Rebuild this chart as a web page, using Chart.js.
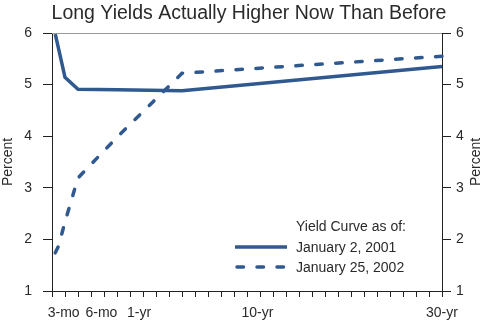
<!DOCTYPE html>
<html>
<head>
  <title>Long Yields</title>
  <meta charset="utf-8">
  <script src="https://cdn.jsdelivr.net/npm/chart.js"></script>
  <style>
    html, body { margin: 0; padding: 0; background: #fff; }
    #wrap { width: 485px; height: 323px; }
  </style>
</head>
<body>
  <div id="wrap"><canvas id="yieldCurveChart"></canvas></div>

  <script>
    // maturities in years
    const maturities = [0.25, 0.5, 1, 2, 5, 10, 30];
    const yields2001 = [5.98, 5.7, 5.14, 4.91, 4.9, 4.88, 5.35];
    const yields2002 = [1.74, 1.87, 2.34, 3.19, 3.98, 5.22, 5.55];
    const seriesLabels = ['January 2, 2001', 'January 25, 2002'];
    const legendTitle = 'Yield Curve as of:';
    const chartTitle = 'Long Yields Actually Higher Now Than Before';
    const axisTitle = 'Percent';

    // bottom axis labels and the axis value each one sits under
    const xTickLabels = ['3-mo', '6-mo', '1-yr', '10-yr', '30-yr'];
    const xTickAt = [0.9, 3.8, 6.7, 15.8, 30];
    const yTicks = [1, 2, 3, 4, 5, 6];

    const lineColor = '#30598f';
    const textColor = '#2a2a2a';
    const font = 'Arial, "Liberation Sans", Helvetica, sans-serif';

    const toPoints = ys => maturities.map((m, i) => ({ x: m, y: ys[i] }));

    // title, top rule and the right-hand axis title (reads upward like the left one)
    const frame = {
      id: 'frame',
      beforeDatasetsDraw(chart) {
        const { ctx, chartArea } = chart;
        ctx.save();
        ctx.strokeStyle = '#9a9a9a';
        ctx.lineWidth = 1;
        ctx.beginPath();
        ctx.moveTo(chartArea.left, chartArea.top + 0.5);
        ctx.lineTo(chartArea.right, chartArea.top + 0.5);
        ctx.stroke();

        ctx.fillStyle = textColor;
        ctx.font = '19.5px ' + font;
        ctx.textAlign = 'center';
        ctx.textBaseline = 'alphabetic';
        ctx.fillText(chartTitle, (chartArea.left + chartArea.right) / 2 + 2, 19);

        ctx.font = '14px ' + font;
        ctx.textBaseline = 'middle';
        ctx.translate(chart.width - 9, (chartArea.top + chartArea.bottom) / 2);
        ctx.rotate(-Math.PI / 2);
        ctx.fillText(axisTitle, 0, 0);
        ctx.restore();
      }
    };

    // legend inside the plot, lower right
    const insideLegend = {
      id: 'insideLegend',
      afterDraw(chart) {
        const { ctx, chartArea } = chart;
        const x0 = chartArea.left + 183;
        const tx = x0 + 61;
        const y0 = chartArea.bottom - 64;
        ctx.save();
        ctx.font = '14px ' + font;
        ctx.fillStyle = textColor;
        ctx.textBaseline = 'middle';
        ctx.fillText(legendTitle, tx, y0);
        chart.data.datasets.forEach((ds, i) => {
          const y = y0 + 20 * (i + 1);
          ctx.strokeStyle = ds.borderColor;
          ctx.lineWidth = ds.borderWidth;
          ctx.lineCap = ds.borderDash ? 'round' : 'butt';
          ctx.setLineDash(ds.borderDash || []);
          ctx.beginPath();
          ctx.moveTo(x0 + (ds.borderDash ? 2 : 0), y);
          ctx.lineTo(x0 + 52, y);
          ctx.stroke();
          ctx.setLineDash([]);
          ctx.fillText(ds.label, tx, y + 1);
        });
        ctx.restore();
      }
    };

    const yAxis = (position, pad) => ({
      type: 'linear',
      position: position,
      min: 1,
      max: 6,
      afterBuildTicks: axis => { axis.ticks = yTicks.map(v => ({ value: v })); },
      afterFit: axis => { axis.width = position === 'left' ? 52 : 43; },
      grid: { drawOnChartArea: false, tickLength: 9, color: '#222', tickWidth: 1 },
      border: { display: true, color: '#222', width: 1 },
      ticks: { padding: pad, color: textColor, font: { family: font, size: 14 } },
      title: {
        display: position === 'left',
        text: axisTitle,
        color: textColor,
        padding: { top: 0, bottom: 2 },
        font: { family: font, size: 14 }
      }
    });

    new Chart(document.getElementById('yieldCurveChart'), {
      type: 'line',
      data: {
        datasets: [{
          label: seriesLabels[0],
          data: toPoints(yields2001),
          borderColor: lineColor,
          borderWidth: 3.5,
          pointRadius: 0,
          tension: 0,
          clip: false
        }, {
          label: seriesLabels[1],
          data: toPoints(yields2002),
          borderColor: lineColor,
          borderWidth: 3.5,
          borderDash: [6.5, 13.5],
          borderCapStyle: 'round',
          pointRadius: 0,
          tension: 0,
          clip: false
        }]
      },
      plugins: [frame, insideLegend],
      options: {
        responsive: true,
        maintainAspectRatio: false,
        animation: false,
        layout: { padding: { top: 33, left: 0, right: 0, bottom: 0 } },
        plugins: {
          legend: { display: false },
          tooltip: { enabled: false },
          title: { display: false }
        },
        scales: {
          x: {
            type: 'linear',
            min: 0,
            max: 30,
            afterBuildTicks: axis => {
              const vals = [];
              for (let v = 0; v <= 30; v++) vals.push(v);
              xTickAt.forEach(v => { if (!vals.includes(v)) vals.push(v); });
              axis.ticks = vals.sort((a, b) => a - b).map(v => ({ value: v }));
            },
            afterFit: axis => { axis.height = 32; },
            grid: {
              drawOnChartArea: false,
              tickLength: 6,
              tickColor: c => (c.tick && Number.isInteger(c.tick.value)) ? '#222' : 'rgba(0,0,0,0)'
            },
            border: { display: true, color: '#222', width: 1 },
            ticks: {
              autoSkip: false,
              maxRotation: 0,
              padding: 8,
              color: textColor,
              font: { family: font, size: 14 },
              callback: v => {
                const i = xTickAt.indexOf(v);
                return i >= 0 ? xTickLabels[i] : '';
              }
            }
          },
          y: yAxis('left', 11),
          y2: yAxis('right', 5)
        }
      }
    });
  </script>
</body>
</html>
